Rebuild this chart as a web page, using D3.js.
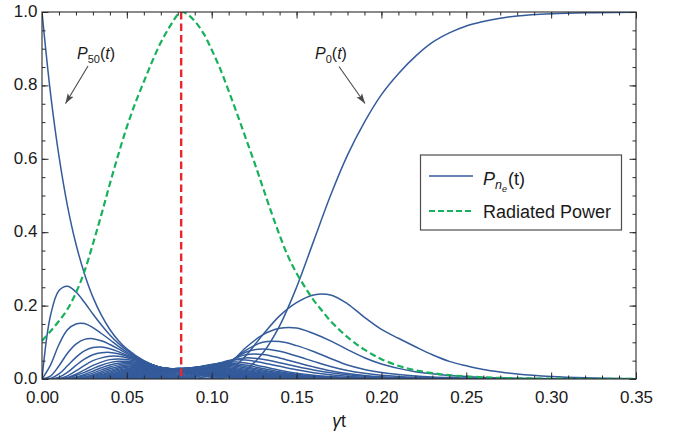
<!DOCTYPE html>
<html>
<head>
<meta charset="utf-8">
<script src="https://cdn.jsdelivr.net/npm/d3@7"></script>
<style>
  html, body { margin: 0; padding: 0; background: #ffffff; }
  svg { display: block; }
  text { font-family: "Liberation Sans", Arial, Helvetica, sans-serif; fill: #1a1a1a; }
</style>
</head>
<body>
<svg id="chart" width="683" height="436"></svg>
<script>
// Sample times (γt) shared by every population curve
const tGrid = [0, 0.005, 0.01, 0.015, 0.02, 0.025, 0.03, 0.035, 0.04, 0.045, 0.05,
  0.06, 0.07, 0.08, 0.09, 0.1, 0.11, 0.12, 0.13, 0.14, 0.15, 0.16, 0.17, 0.18, 0.19,
  0.2, 0.21, 0.22, 0.23, 0.24, 0.25, 0.26, 0.27, 0.28, 0.3, 0.32, 0.35];

// Population P_ne(t) of the state with ne excited atoms (entries past the end are zero)
const P50 = [1, 0.779, 0.607, 0.472, 0.368, 0.287, 0.223, 0.174, 0.135, 0.105, 0.082, 0.0498, 0.0302, 0.0183, 0.0111, 0.0067, 0.0041, 0.0025, 0.0015, 0.0009, 0.0006, 0.0003, 0.0002, 0.0001];
const P49 = [0, 0.173, 0.241, 0.253, 0.237, 0.209, 0.177, 0.147, 0.12, 0.097, 0.078, 0.049, 0.03, 0.019, 0.012, 0.007, 0.0043, 0.0026, 0.0016, 0.001, 0.0006, 0.0003, 0.0002, 0.0001];
const P48 = [0, 0.038, 0.094, 0.134, 0.15, 0.151, 0.14, 0.124, 0.107, 0.089, 0.073, 0.048, 0.031, 0.019, 0.012, 0.0073, 0.0044, 0.0027, 0.0016, 0.001, 0.0006, 0.0004, 0.0002, 0.0001];
const P47 = [0, 0.008, 0.036, 0.07, 0.095, 0.108, 0.11, 0.104, 0.094, 0.082, 0.069, 0.047, 0.031, 0.019, 0.012, 0.0074, 0.0046, 0.0028, 0.0017, 0.001, 0.0006, 0.0004, 0.0002, 0.0001];
const P46 = [0, 0.0017, 0.0137, 0.0359, 0.0591, 0.0766, 0.0856, 0.0869, 0.0824, 0.0745, 0.0651, 0.0462, 0.0308, 0.0198, 0.0124, 0.0077, 0.0047, 0.0029, 0.0018, 0.0011, 0.0007, 0.0004, 0.0002, 0.0001];
const P45 = [0, 0.0004, 0.005, 0.018, 0.037, 0.054, 0.066, 0.0715, 0.0725, 0.069, 0.062, 0.046, 0.031, 0.0203, 0.0129, 0.008, 0.0049, 0.003, 0.0018, 0.0011, 0.0007, 0.0004, 0.0002, 0.0001];
const P44 = [0, 0.0001, 0.0015, 0.0085, 0.022, 0.037, 0.05, 0.0575, 0.062, 0.0618, 0.058, 0.045, 0.0313, 0.0208, 0.0134, 0.0083, 0.0051, 0.0031, 0.0019, 0.0012, 0.0007, 0.0004, 0.0003, 0.0001];
const P43 = [0, 0, 0.0004, 0.004, 0.013, 0.025, 0.037, 0.046, 0.0528, 0.0548, 0.053, 0.0435, 0.0314, 0.0213, 0.0139, 0.0087, 0.0054, 0.0033, 0.002, 0.0012, 0.0008, 0.0005, 0.0003, 0.0002, 0.0001];
const P42 = [0, 0, 0.0002, 0.0025, 0.0096, 0.0181, 0.0282, 0.0376, 0.0446, 0.0481, 0.0484, 0.0417, 0.0314, 0.0217, 0.0143, 0.0091, 0.0056, 0.0035, 0.0021, 0.0013, 0.0008, 0.0005, 0.0003, 0.0002, 0.0001];
const P41 = [0, 0, 0, 0.001, 0.005, 0.0124, 0.0213, 0.0306, 0.0384, 0.0431, 0.0449, 0.0406, 0.0314, 0.0221, 0.0146, 0.0094, 0.0059, 0.0036, 0.0022, 0.0014, 0.0008, 0.0005, 0.0003, 0.0002, 0.0001];
const P40 = [0, 0, 0, 0.0005, 0.003, 0.0086, 0.0161, 0.0248, 0.0328, 0.0385, 0.0414, 0.0393, 0.0312, 0.0223, 0.015, 0.0097, 0.0061, 0.0038, 0.0023, 0.0014, 0.0009, 0.0005, 0.0003, 0.0002, 0.0001];
const P39 = [0, 0, 0, 0.0003, 0.0019, 0.0057, 0.0117, 0.0197, 0.0277, 0.0342, 0.0381, 0.038, 0.0312, 0.0227, 0.0154, 0.01, 0.0063, 0.0039, 0.0024, 0.0015, 0.0009, 0.0005, 0.0003, 0.0002, 0.0001];
const P38 = [0, 0, 0, 0.0001, 0.0013, 0.0037, 0.0086, 0.0155, 0.0233, 0.0302, 0.0349, 0.0367, 0.0311, 0.0231, 0.0159, 0.0104, 0.0066, 0.0041, 0.0025, 0.0015, 0.001, 0.0006, 0.0003, 0.0002, 0.0001];
const P37 = [0, 0, 0, 0, 0.0007, 0.0024, 0.0063, 0.0121, 0.0194, 0.0264, 0.0319, 0.0354, 0.031, 0.0235, 0.0163, 0.0108, 0.0069, 0.0043, 0.0026, 0.0016, 0.001, 0.0006, 0.0004, 0.0002, 0.0001];
const P36 = [0, 0, 0, 0, 0.0004, 0.0015, 0.0043, 0.0092, 0.0159, 0.023, 0.0289, 0.034, 0.0311, 0.0239, 0.0169, 0.0112, 0.0072, 0.0045, 0.0028, 0.0017, 0.001, 0.0006, 0.0004, 0.0002, 0.0001];
const P35 = [0, 0, 0, 0, 0.0002, 0.0009, 0.003, 0.007, 0.0129, 0.0197, 0.026, 0.0326, 0.0308, 0.0244, 0.0174, 0.0117, 0.0075, 0.0047, 0.0029, 0.0018, 0.0011, 0.0007, 0.0004, 0.0002, 0.0001];
const P34 = [0, 0, 0, 0, 0.0001, 0.0005, 0.002, 0.0052, 0.0104, 0.0169, 0.0233, 0.0311, 0.0306, 0.0248, 0.0179, 0.0121, 0.0079, 0.0049, 0.0031, 0.0019, 0.0012, 0.0007, 0.0004, 0.0003, 0.0002, 0.0001];
const P33 = [0, 0, 0, 0, 0, 0.0003, 0.0013, 0.0037, 0.0082, 0.0142, 0.0206, 0.0296, 0.0303, 0.0253, 0.0186, 0.0127, 0.0082, 0.0052, 0.0033, 0.002, 0.0012, 0.0008, 0.0005, 0.0003, 0.0002, 0.0001];
const P32 = [0, 0, 0, 0, 0, 0.0002, 0.0009, 0.0027, 0.0064, 0.0119, 0.0182, 0.028, 0.03, 0.0256, 0.0192, 0.0132, 0.0087, 0.0055, 0.0034, 0.0021, 0.0013, 0.0008, 0.0005, 0.0003, 0.0002, 0.0001];
const P31 = [0, 0, 0, 0, 0, 0.0001, 0.0005, 0.0019, 0.005, 0.0098, 0.0158, 0.0264, 0.0296, 0.0261, 0.0198, 0.0138, 0.0091, 0.0058, 0.0036, 0.0022, 0.0014, 0.0008, 0.0005, 0.0003, 0.0002, 0.0001];
const P30 = [0, 0, 0, 0, 0, 0, 0.0003, 0.0013, 0.0037, 0.0079, 0.0137, 0.0248, 0.0292, 0.0266, 0.0205, 0.0145, 0.0096, 0.0061, 0.0039, 0.0024, 0.0015, 0.0009, 0.0005, 0.0003, 0.0002, 0.0001];
const P29 = [0, 0, 0, 0, 0, 0, 0.0002, 0.0009, 0.0027, 0.0064, 0.0116, 0.023, 0.0287, 0.0269, 0.0213, 0.0152, 0.0101, 0.0065, 0.0041, 0.0025, 0.0016, 0.001, 0.0006, 0.0004, 0.0002, 0.0001];
const P28 = [0, 0, 0, 0, 0, 0, 0.0001, 0.0005, 0.0019, 0.005, 0.0097, 0.0213, 0.028, 0.0273, 0.022, 0.0159, 0.0107, 0.0069, 0.0044, 0.0027, 0.0017, 0.001, 0.0006, 0.0004, 0.0002, 0.0001];
const P27 = [0, 0, 0, 0, 0, 0, 0, 0.0003, 0.0014, 0.0037, 0.008, 0.0195, 0.0274, 0.0276, 0.0229, 0.0167, 0.0114, 0.0074, 0.0047, 0.0029, 0.0018, 0.0011, 0.0007, 0.0004, 0.0003, 0.0002, 0.0001];
const P26 = [0, 0, 0, 0, 0, 0, 0, 0.0002, 0.001, 0.0028, 0.0065, 0.0177, 0.0265, 0.0279, 0.0236, 0.0176, 0.0121, 0.0079, 0.005, 0.0031, 0.0019, 0.0012, 0.0007, 0.0004, 0.0003, 0.0002, 0.0001];
const P25 = [0, 0, 0, 0, 0, 0, 0, 0.0001, 0.0006, 0.0021, 0.0052, 0.0159, 0.0257, 0.0282, 0.0245, 0.0185, 0.0128, 0.0085, 0.0054, 0.0033, 0.0021, 0.0013, 0.0008, 0.0005, 0.0003, 0.0002, 0.0001];
const P24 = [0, 0, 0, 0, 0, 0, 0, 0, 0.0004, 0.0015, 0.0041, 0.0141, 0.0246, 0.0284, 0.0254, 0.0195, 0.0137, 0.0091, 0.0058, 0.0036, 0.0022, 0.0014, 0.0008, 0.0005, 0.0003, 0.0002, 0.0001];
const P23 = [0, 0, 0, 0, 0, 0, 0, 0, 0.0002, 0.001, 0.0031, 0.0123, 0.0234, 0.0285, 0.0263, 0.0206, 0.0146, 0.0097, 0.0063, 0.0039, 0.0024, 0.0015, 0.0009, 0.0005, 0.0003, 0.0002, 0.0001];
const P22 = [0, 0, 0, 0, 0, 0, 0, 0, 0.0001, 0.0007, 0.0023, 0.0107, 0.0222, 0.0285, 0.0272, 0.0218, 0.0156, 0.0105, 0.0068, 0.0042, 0.0026, 0.0016, 0.001, 0.0006, 0.0004, 0.0002, 0.0001];
const P21 = [0, 0, 0, 0, 0, 0, 0, 0, 0, 0.0005, 0.0016, 0.009, 0.0208, 0.0284, 0.0282, 0.0231, 0.0168, 0.0114, 0.0074, 0.0047, 0.0029, 0.0018, 0.0011, 0.0007, 0.0004, 0.0002, 0.0001];
const P20 = [0, 0, 0, 0, 0, 0, 0, 0, 0, 0.0003, 0.0011, 0.0074, 0.0193, 0.0282, 0.0291, 0.0244, 0.018, 0.0123, 0.008, 0.0051, 0.0032, 0.002, 0.0012, 0.0007, 0.0004, 0.0003, 0.0002, 0.0001];
const P19 = [0, 0, 0, 0, 0, 0, 0, 0, 0, 0.0002, 0.0007, 0.0058, 0.017, 0.0269, 0.0291, 0.0251, 0.0189, 0.013, 0.0086, 0.0055, 0.0034, 0.0021, 0.0013, 0.0008, 0.0005, 0.0003, 0.0002, 0.0001];
const P18 = [0, 0, 0, 0, 0, 0, 0, 0, 0, 0.0001, 0.0004, 0.0046, 0.0154, 0.0263, 0.03, 0.0267, 0.0204, 0.0143, 0.0095, 0.006, 0.0038, 0.0023, 0.0014, 0.0009, 0.0005, 0.0003, 0.0002, 0.0001];
const P17 = [0, 0, 0, 0, 0, 0, 0, 0, 0, 0, 0.0003, 0.0034, 0.0135, 0.0255, 0.0308, 0.0284, 0.0222, 0.0157, 0.0104, 0.0067, 0.0042, 0.0026, 0.0016, 0.001, 0.0006, 0.0004, 0.0002, 0.0001];
const P16 = [0, 0, 0, 0, 0, 0, 0, 0, 0, 0, 0.0002, 0.0025, 0.0116, 0.0244, 0.0314, 0.0301, 0.0241, 0.0173, 0.0116, 0.0075, 0.0047, 0.0029, 0.0018, 0.0011, 0.0007, 0.0004, 0.0002, 0.0001];
const P15 = [0, 0, 0, 0, 0, 0, 0, 0, 0, 0, 0.0001, 0.0018, 0.0098, 0.0231, 0.032, 0.032, 0.0263, 0.0192, 0.0131, 0.0085, 0.0053, 0.0033, 0.002, 0.0013, 0.0008, 0.0005, 0.0003, 0.0002, 0.0001];
const P14 = [0, 0, 0, 0, 0, 0, 0, 0, 0, 0, 0, 0.0011, 0.0076, 0.0207, 0.0312, 0.0329, 0.0279, 0.0208, 0.0143, 0.0093, 0.0059, 0.0037, 0.0023, 0.0014, 0.0009, 0.0005, 0.0003, 0.0002, 0.0001];
const P13 = [0, 0, 0, 0, 0, 0, 0, 0, 0, 0, 0, 0.0006, 0.006, 0.0188, 0.0312, 0.0349, 0.0307, 0.0233, 0.0162, 0.0107, 0.0068, 0.0042, 0.0026, 0.0016, 0.001, 0.0006, 0.0004, 0.0002, 0.0001];
const P12 = [0, 0, 0, 0, 0, 0, 0, 0, 0, 0, 0, 0.0003, 0.0043, 0.0167, 0.0307, 0.0369, 0.0339, 0.0263, 0.0186, 0.0124, 0.0079, 0.005, 0.0031, 0.0019, 0.0012, 0.0007, 0.0004, 0.0003, 0.0002, 0.0001];
const P11 = [0, 0, 0, 0, 0, 0, 0, 0, 0, 0, 0, 0.0001, 0.0029, 0.014, 0.0299, 0.0387, 0.0373, 0.0299, 0.0215, 0.0145, 0.0093, 0.0059, 0.0037, 0.0022, 0.0014, 0.0008, 0.0005, 0.0003, 0.0002, 0.0001];
const P10 = [0, 0, 0, 0, 0, 0, 0, 0, 0, 0, 0, 0, 0.0018, 0.0111, 0.0276, 0.0396, 0.0403, 0.0336, 0.0247, 0.0168, 0.0109, 0.007, 0.0043, 0.0026, 0.0016, 0.001, 0.0006, 0.0004, 0.0002, 0.0001];
const P9 = [0, 0, 0, 0, 0, 0, 0, 0, 0, 0, 0, 0, 0.0009, 0.008, 0.0245, 0.0396, 0.0436, 0.038, 0.0287, 0.0199, 0.0132, 0.0083, 0.0052, 0.0032, 0.002, 0.0012, 0.0007, 0.0004, 0.0003, 0.0002, 0.0001];
const P8 = [0, 0, 0, 0, 0, 0, 0, 0, 0, 0, 0, 0, 0.0004, 0.0051, 0.0202, 0.0385, 0.0469, 0.0434, 0.034, 0.0241, 0.016, 0.0103, 0.0065, 0.004, 0.0025, 0.0015, 0.0009, 0.0006, 0.0003, 0.0002, 0.0001];
const P7 = [0, 0, 0, 0, 0, 0, 0, 0, 0, 0, 0, 0, 0.0003, 0.0035, 0.0155, 0.034, 0.0505, 0.0515, 0.0445, 0.0345, 0.025, 0.0173, 0.0116, 0.0077, 0.005, 0.0033, 0.0021, 0.0014, 0.0009, 0.0006, 0.0004, 0.0002, 0.0001, 0.0001];
const P6 = [0, 0, 0, 0, 0, 0, 0, 0, 0, 0, 0, 0, 0.0002, 0.0025, 0.012, 0.03, 0.049, 0.0575, 0.0535, 0.0445, 0.034, 0.0245, 0.017, 0.0115, 0.0076, 0.005, 0.0033, 0.0021, 0.0014, 0.0009, 0.0006, 0.0004, 0.0002, 0.0001];
const P5 = [0, 0, 0, 0, 0, 0, 0, 0, 0, 0, 0, 0, 0.0001, 0.0017, 0.009, 0.026, 0.048, 0.066, 0.067, 0.0575, 0.045, 0.033, 0.0225, 0.015, 0.0098, 0.0064, 0.0042, 0.0027, 0.0018, 0.0012, 0.0008, 0.0005, 0.0003, 0.0002, 0.0001];
const P4 = [0, 0, 0, 0, 0, 0, 0, 0, 0, 0, 0, 0, 0.0001, 0.0011, 0.0065, 0.021, 0.046, 0.073, 0.082, 0.0757, 0.0625, 0.048, 0.034, 0.023, 0.0155, 0.0104, 0.007, 0.0047, 0.0032, 0.0022, 0.0015, 0.001, 0.0007, 0.0005, 0.0002, 0.0001];
const P3 = [0, 0, 0, 0, 0, 0, 0, 0, 0, 0, 0, 0, 0, 0.0007, 0.0045, 0.018, 0.044, 0.078, 0.1, 0.102, 0.091, 0.075, 0.056, 0.038, 0.026, 0.018, 0.0124, 0.0084, 0.0057, 0.0039, 0.0026, 0.0018, 0.0012, 0.0008, 0.0004, 0.0002];
const P2 = [0, 0, 0, 0, 0, 0, 0, 0, 0, 0, 0, 0, 0, 0.0003, 0.002, 0.011, 0.039, 0.085, 0.12, 0.138, 0.139, 0.124, 0.104, 0.08, 0.058, 0.041, 0.029, 0.02, 0.014, 0.0095, 0.0065, 0.0044, 0.003, 0.002, 0.0009, 0.0004, 0.0001];
const P1 = [0, 0, 0, 0, 0, 0, 0, 0, 0, 0, 0, 0, 0, 0, 0.0005, 0.004, 0.02, 0.063, 0.12, 0.172, 0.208, 0.229, 0.229, 0.205, 0.168, 0.135, 0.111, 0.088, 0.066, 0.048, 0.036, 0.026, 0.019, 0.0135, 0.0068, 0.0033, 0.001];
const P0 = [0, 0, 0, 0, 0, 0, 0, 0, 0, 0, 0, 0, 0, 0, 0, 0.0005, 0.005, 0.025, 0.07, 0.145, 0.25, 0.375, 0.5, 0.61, 0.7, 0.775, 0.832, 0.879, 0.917, 0.943, 0.962, 0.974, 0.983, 0.989, 0.995, 0.998, 0.9995];

const populations = [P0, P1, P2, P3, P4, P5, P6, P7, P8, P9, P10, P11, P12, P13, P14, P15, P16,
  P17, P18, P19, P20, P21, P22, P23, P24, P25, P26, P27, P28, P29, P30, P31, P32, P33, P34,
  P35, P36, P37, P38, P39, P40, P41, P42, P43, P44, P45, P46, P47, P48, P49, P50];

// Radiated power, normalised to its maximum
const tPower = [0, 0.005, 0.01, 0.015, 0.02, 0.025, 0.03, 0.035, 0.04, 0.045, 0.05, 0.055,
  0.06, 0.065, 0.07, 0.075, 0.08, 0.082, 0.085, 0.09, 0.095, 0.1, 0.105, 0.11, 0.115, 0.12,
  0.125, 0.13, 0.135, 0.14, 0.145, 0.15, 0.155, 0.16, 0.165, 0.17, 0.175, 0.18, 0.185, 0.19,
  0.195, 0.2, 0.21, 0.22, 0.23, 0.24, 0.25, 0.27, 0.3, 0.35];
const radiatedPower = [0.104, 0.13, 0.158, 0.19, 0.235, 0.293, 0.368, 0.448, 0.532, 0.612,
  0.687, 0.752, 0.81, 0.866, 0.917, 0.958, 0.993, 1.0, 0.996, 0.975, 0.943, 0.897, 0.845,
  0.785, 0.722, 0.657, 0.592, 0.524, 0.456, 0.392, 0.334, 0.288, 0.25, 0.215, 0.186, 0.158,
  0.135, 0.114, 0.096, 0.08, 0.066, 0.054, 0.036, 0.024, 0.016, 0.0105, 0.007, 0.003, 0.001, 0.0001];

// Time of the emission peak
const peakTime = 0.082;

// Axis ticks
const xTickValues = [0, 0.05, 0.1, 0.15, 0.2, 0.25, 0.3, 0.35];
const yTickValues = [0, 0.2, 0.4, 0.6, 0.8, 1.0];

const COLORS = { pop: "#345b9b", power: "#17b05c", peak: "#e8262b", frame: "#2b2b2b", arrow: "#4a4a4a" };
const W = 683, H = 436;
const plotLeft = 42, plotRight = 636, plotTop = 12, plotBottom = 379;

const svg = d3.select("#chart");
const x = d3.scaleLinear().domain([0, 0.35]).range([plotLeft, plotRight]);
const y = d3.scaleLinear().domain([0, 1]).range([plotBottom, plotTop]);

svg.append("rect").attr("width", W).attr("height", H).attr("fill", "#ffffff");

const defs = svg.append("defs");
defs.append("clipPath").attr("id", "plot-clip")
  .append("rect")
  .attr("x", plotLeft).attr("y", plotTop)
  .attr("width", plotRight - plotLeft).attr("height", plotBottom - plotTop);

defs.append("marker")
  .attr("id", "arrow-head")
  .attr("viewBox", "0 0 10 10")
  .attr("refX", 10).attr("refY", 5)
  .attr("markerWidth", 10).attr("markerHeight", 10)
  .attr("markerUnits", "userSpaceOnUse")
  .attr("orient", "auto")
  .append("path")
  .attr("d", "M0,1.6 L10,5 L0,8.4 L2.2,5 Z")
  .attr("fill", COLORS.arrow);

const line = d3.line()
  .x(d => x(d[0]))
  .y(d => y(d[1]))
  .curve(d3.curveCatmullRom.alpha(0.5));

const plot = svg.append("g").attr("clip-path", "url(#plot-clip)");

// Populations of every excitation number
plot.append("g")
  .selectAll("path")
  .data(populations)
  .join("path")
  .attr("d", vals => line(tGrid.map((t, i) => [t, vals[i] ?? 0])))
  .attr("fill", "none")
  .attr("stroke", COLORS.pop)
  .attr("stroke-width", 1.5)
  .attr("stroke-linejoin", "round");

// Radiated power
plot.append("path")
  .attr("d", line(tPower.map((t, i) => [t, radiatedPower[i]])))
  .attr("fill", "none")
  .attr("stroke", COLORS.power)
  .attr("stroke-width", 2.2)
  .attr("stroke-dasharray", "6.5,3.5");

// Emission peak marker
plot.append("line")
  .attr("x1", x(peakTime)).attr("x2", x(peakTime))
  .attr("y1", y(1)).attr("y2", y(0))
  .attr("stroke", COLORS.peak)
  .attr("stroke-width", 2.4)
  .attr("stroke-dasharray", "7.5,4");

// Frame ticks on all four sides, pointing inwards
const xMinor = d3.range(0, 0.3501, 0.01);
const yMinor = d3.range(0, 1.0001, 0.05);
const fontSize = 17;

function styleAxis(g) {
  g.select(".domain").remove();
  g.selectAll(".tick line").attr("stroke", COLORS.frame).attr("stroke-width", 1);
  g.selectAll("text").attr("fill", "#1a1a1a");
  g.attr("font-family", '"Liberation Sans", Arial, sans-serif').attr("font-size", fontSize);
}

svg.append("g").attr("transform", `translate(0,${plotBottom})`)
  .call(d3.axisBottom(x).tickValues(xMinor).tickSize(-3.5).tickFormat(""))
  .call(styleAxis);
svg.append("g").attr("transform", `translate(0,${plotBottom})`)
  .call(d3.axisBottom(x).tickValues(xTickValues).tickSize(-6.5).tickPadding(11.5).tickFormat(d3.format(".2f")))
  .call(styleAxis);
svg.append("g").attr("transform", `translate(0,${plotTop})`)
  .call(d3.axisTop(x).tickValues(xMinor).tickSize(-3.5).tickFormat(""))
  .call(styleAxis);
svg.append("g").attr("transform", `translate(0,${plotTop})`)
  .call(d3.axisTop(x).tickValues(xTickValues).tickSize(-6.5).tickFormat(""))
  .call(styleAxis);

svg.append("g").attr("transform", `translate(${plotLeft},0)`)
  .call(d3.axisLeft(y).tickValues(yMinor).tickSize(-3.5).tickFormat(""))
  .call(styleAxis);
const yLabels = svg.append("g").attr("transform", `translate(${plotLeft},0)`)
  .call(d3.axisLeft(y).tickValues(yTickValues).tickSize(-6.5).tickPadding(4.5).tickFormat(d3.format(".1f")))
  .call(styleAxis);
yLabels.selectAll("text").attr("dy", "0.27em");
svg.append("g").attr("transform", `translate(${plotRight},0)`)
  .call(d3.axisRight(y).tickValues(yMinor).tickSize(-3.5).tickFormat(""))
  .call(styleAxis);
svg.append("g").attr("transform", `translate(${plotRight},0)`)
  .call(d3.axisRight(y).tickValues(yTickValues).tickSize(-6.5).tickFormat(""))
  .call(styleAxis);

// Frame
svg.append("rect")
  .attr("x", plotLeft).attr("y", plotTop)
  .attr("width", plotRight - plotLeft).attr("height", plotBottom - plotTop)
  .attr("fill", "none").attr("stroke", COLORS.frame).attr("stroke-width", 1.1);

// Axis title
const xt = svg.append("text")
  .attr("x", 339).attr("y", 427)
  .attr("text-anchor", "middle")
  .attr("font-size", 17.5);
xt.append("tspan").attr("font-style", "italic").text("γ");
xt.append("tspan").text("t");

// Curve labels with arrows
function curveLabel(xPos, yPos, sub) {
  const t = svg.append("text").attr("x", xPos).attr("y", yPos).attr("font-size", 16);
  t.append("tspan").attr("font-style", "italic").text("P");
  t.append("tspan").attr("font-size", 11).attr("dy", 4).text(sub);
  t.append("tspan").attr("dy", -4).text("(");
  t.append("tspan").attr("font-style", "italic").text("t");
  t.append("tspan").text(")");
}
curveLabel(77, 59, "50");
curveLabel(315, 59, "0");

svg.append("line")
  .attr("x1", 88).attr("y1", 66).attr("x2", 65.5).attr("y2", 103.5)
  .attr("stroke", COLORS.arrow).attr("stroke-width", 1.1)
  .attr("marker-end", "url(#arrow-head)");
svg.append("line")
  .attr("x1", 339).attr("y1", 66.5).attr("x2", 365).attr("y2", 103.5)
  .attr("stroke", COLORS.arrow).attr("stroke-width", 1.1)
  .attr("marker-end", "url(#arrow-head)");

// Legend
const legend = svg.append("g");
legend.append("rect")
  .attr("x", 420.5).attr("y", 155)
  .attr("width", 201).attr("height", 75)
  .attr("fill", "#ffffff").attr("stroke", "#4d4d4d").attr("stroke-width", 1.2);
legend.append("line")
  .attr("x1", 429).attr("x2", 473).attr("y1", 176).attr("y2", 176)
  .attr("stroke", COLORS.pop).attr("stroke-width", 1.5);
legend.append("line")
  .attr("x1", 429).attr("x2", 473).attr("y1", 211).attr("y2", 211)
  .attr("stroke", COLORS.power).attr("stroke-width", 2.2)
  .attr("stroke-dasharray", "6,3");

const lt = legend.append("text").attr("x", 483).attr("y", 184.5).attr("font-size", 18);
lt.append("tspan").attr("font-style", "italic").text("P");
lt.append("tspan").attr("font-style", "italic").attr("font-size", 12.5).attr("dy", 4.5).text("n");
lt.append("tspan").attr("font-style", "italic").attr("font-size", 9).attr("dy", 3).text("e");
lt.append("tspan").attr("dy", -7.5).attr("dx", 1).text("(t)");

legend.append("text")
  .attr("x", 483).attr("y", 217.5)
  .attr("font-size", 18)
  .text("Radiated Power");
</script>
</body>
</html>
